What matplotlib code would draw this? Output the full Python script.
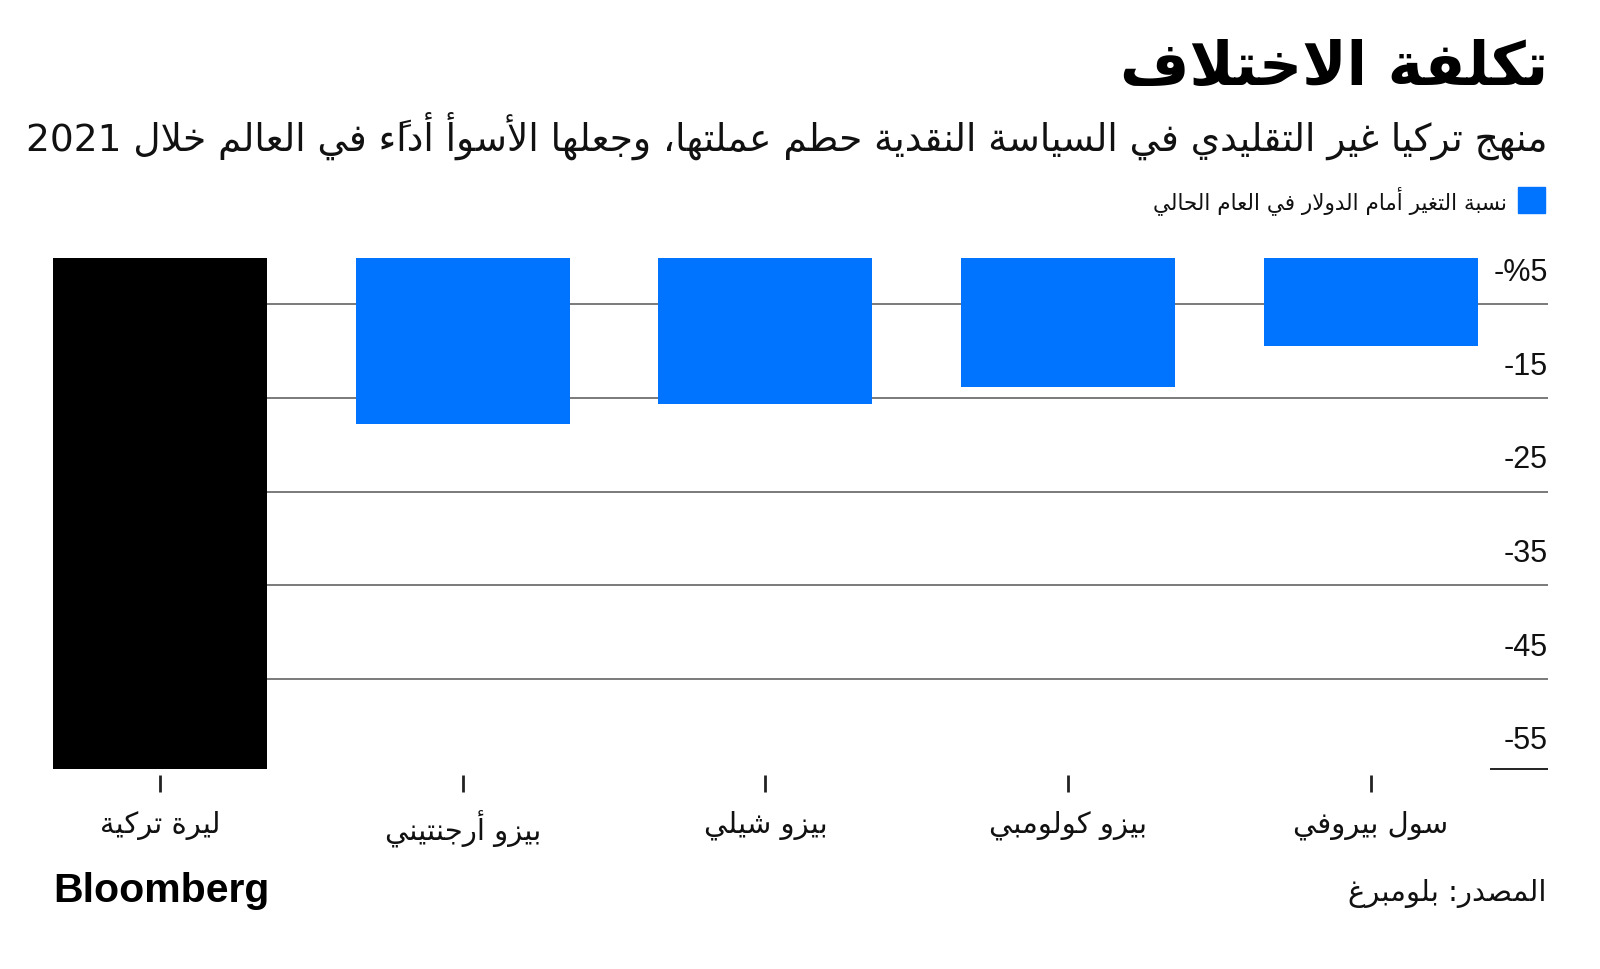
import numpy as np
import matplotlib
matplotlib.use("Agg")
from matplotlib import pyplot as plt
from matplotlib.patches import Rectangle
import matplotlib.transforms as mtransforms

# data
categories = ["ليرة تركية", "بيزو أرجنتيني", "بيزو شيلي", "بيزو كولومبي", "سول بيروفي"]
change = [-54.6, -17.8, -15.6, -13.8, -9.4]
bar_colors = ["#000000", "#0073ff", "#0073ff", "#0073ff", "#0073ff"]
grid_values = [-5, -15, -25, -35, -45, -55]
grid_labels = ["-%5", "-15", "-25", "-35", "-45", "-55"]

title = "تكلفة الاختلاف"
subtitle = "منهج تركيا غير التقليدي في السياسة النقدية حطم عملتها، وجعلها الأسوأ أداءً في العالم خلال 2021"
legend_text = "نسبة التغير أمام الدولار في العام الحالي"
source = "المصدر: بلومبرغ"

# --- tiny Arabic shaper (matplotlib has no text shaping) ---
FORMS = {
    'ء': (0xFE80, 1), 'آ': (0xFE81, 2), 'أ': (0xFE83, 2), 'ؤ': (0xFE85, 2),
    'إ': (0xFE87, 2), 'ئ': (0xFE89, 4), 'ا': (0xFE8D, 2), 'ب': (0xFE8F, 4),
    'ة': (0xFE93, 2), 'ت': (0xFE95, 4), 'ث': (0xFE99, 4), 'ج': (0xFE9D, 4),
    'ح': (0xFEA1, 4), 'خ': (0xFEA5, 4), 'د': (0xFEA9, 2), 'ذ': (0xFEAB, 2),
    'ر': (0xFEAD, 2), 'ز': (0xFEAF, 2), 'س': (0xFEB1, 4), 'ش': (0xFEB5, 4),
    'ص': (0xFEB9, 4), 'ض': (0xFEBD, 4), 'ط': (0xFEC1, 4), 'ظ': (0xFEC5, 4),
    'ع': (0xFEC9, 4), 'غ': (0xFECD, 4), 'ف': (0xFED1, 4), 'ق': (0xFED5, 4),
    'ك': (0xFED9, 4), 'ل': (0xFEDD, 4), 'م': (0xFEE1, 4), 'ن': (0xFEE5, 4),
    'ه': (0xFEE9, 4), 'و': (0xFEED, 2), 'ى': (0xFEEF, 2), 'ي': (0xFEF1, 4),
}
LAM_ALEF = {'آ': 0xFEF5, 'أ': 0xFEF7, 'إ': 0xFEF9, 'ا': 0xFEFB}
MARKS = set(chr(c) for c in range(0x064B, 0x0653))


def jtype(u):
    if len(u) == 2:
        return (True, False)
    if u in FORMS:
        n = FORMS[u][1]
        return (n >= 2, n == 4)
    return (False, False)


def shape(text):
    units = []
    i = 0
    while i < len(text):
        if text[i] == 'ل' and i + 1 < len(text) and text[i + 1] in LAM_ALEF:
            units.append(text[i:i + 2])
            i += 2
        else:
            units.append(text[i])
            i += 1
    res = []
    for k, u in enumerate(units):
        if u in MARKS:
            res.append(u)
            continue
        p = k - 1
        while p >= 0 and units[p] in MARKS:
            p -= 1
        q = k + 1
        while q < len(units) and units[q] in MARKS:
            q += 1
        jp, jn = jtype(u)
        a = jp and p >= 0 and jtype(units[p])[1]
        b = jn and q < len(units) and jtype(units[q])[0]
        if len(u) == 2:
            res.append(chr(LAM_ALEF[u[1]] + (1 if a else 0)))
        elif u in FORMS:
            off = {(False, False): 0, (True, False): 1, (False, True): 2, (True, True): 3}[(a, b)]
            res.append(chr(FORMS[u][0] + off))
        else:
            res.append(u)
    # clusters: base + following marks
    clusters = []
    for c in res:
        if c in MARKS and clusters:
            clusters[-1] += c
        else:
            clusters.append(c)
    # visual order: reverse, but keep latin/digit runs left-to-right
    clusters = clusters[::-1]
    out = []
    run = []
    for c in clusters:
        if c[0].isascii() and c[0].isalnum():
            run.append(c)
        else:
            out.extend(run[::-1])
            run = []
            out.append(c)
    out.extend(run[::-1])
    return "".join(out)


plt.rcParams['font.family'] = ['DejaVu Sans']

fig = plt.figure(figsize=(16, 9.7), dpi=100)
W, H = 1600, 970
ax = fig.add_axes([53 / W, (H - 775.5) / H, (1548 - 53) / W, (775.5 - 258.5) / H])

x = np.arange(len(categories))
ax.bar(x, change, width=0.707, color=bar_colors, zorder=3)
ax.set_xlim(-0.353, 4.585)
ax.set_ylim(-55.18, 0)

for v in grid_values[:-1]:
    ax.axhline(v, color="#7a7a7a", lw=1.4, zorder=1)
# short baseline at the bottom of the scale
ax.axhline(min(change), xmin=0.9617, xmax=1, color="#222222", lw=1.4, zorder=1)

trans = mtransforms.blended_transform_factory(ax.transAxes, ax.transData)
for v, lab in zip(grid_values, grid_labels):
    ax.text(1.0, v + 3.45, lab, transform=trans, ha="right", va="center",
            fontsize=22, family="Liberation Sans", color="#111111")

for s in ax.spines.values():
    s.set_visible(False)
ax.set_yticks([])
ax.set_xticks(x)
ax.set_xticklabels([shape(c) for c in categories], fontsize=21, color="#111111")
ax.tick_params(axis="x", length=12.5, width=2, color="#222222", pad=13)

# titles
fig.text(1548 / W, 1 - 69 / H, shape(title), ha="right", va="center",
         fontsize=43, fontweight="bold", color="black")
fig.text(1548 / W, 1 - 136 / H, shape(subtitle), ha="right", va="center",
         fontsize=27, color="#111111")

# legend
fig.patches.append(Rectangle((1518 / W, 1 - 214 / H), 27 / W, 26 / H,
                             transform=fig.transFigure, color="#0073ff"))
fig.text(1507 / W, 1 - 201 / H, shape(legend_text), ha="right", va="center",
         fontsize=15.5, color="#111111")

# footer
fig.text(53 / W, 1 - 891 / H, "Bloomberg", ha="left", va="center",
         fontsize=29.5, fontweight="bold", family="Liberation Sans", color="black")
fig.text(1546 / W, 1 - 894 / H, shape(source), ha="right", va="center",
         fontsize=21, color="#111111")

fig.savefig("out.png", dpi=100, facecolor="white")
